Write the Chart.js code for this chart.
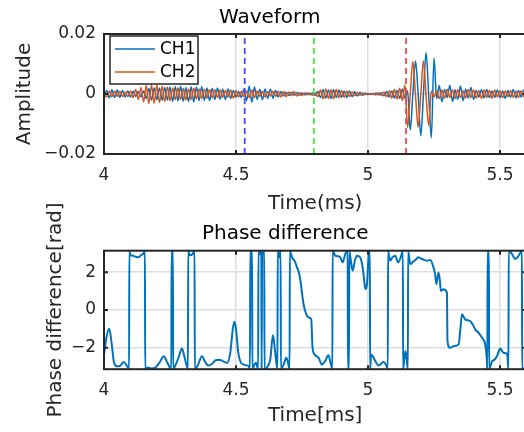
<!DOCTYPE html>
<html lang="ja">
<head>
<meta charset="UTF-8">
<title>Waveform / Phase difference</title>
<script src="https://cdn.jsdelivr.net/npm/chart.js"></script>
<style>
  html, body { margin: 0; padding: 0; background: #fff; overflow: hidden; width: 524px; height: 432px; }
  #c1 { position: absolute; left: 0; top: 0; }
  #c2 { position: absolute; left: 0; top: 170px; }
</style>
</head>
<body>
<canvas id="c1" width="540" height="216"></canvas>
<canvas id="c2" width="540" height="262"></canvas>
<script>
// ---- data ----
// waveform samples, one every 0.01 ms starting at 4.00 ms; amplitudes in units of 1e-3
var waveStart = 4.0
var waveStep = 0.01
var ampUnit = 1e-3
var ch1Values = [
  -1.5,1.2,-1.3,1.4,-1.2,1.3,-1.1,1.2,-1.0,1.1,-1.0,
  0.9,-0.8,0.8,-0.9,1.0,
  -1.5,1.8,-2.0,2.0,-1.9,2.0,-2.1,2.2,-2.0,2.3,
  -2.4,2.5,-2.3,2.6,-2.4,2.2,-2.5,2.4,-2.6,2.3,-2.2,2.4,-2.1,2.0,-2.2,1.9,-1.8,2.0,-1.7,1.6,
  -1.8,1.7,-1.5,1.2,-1.0,0.8,-1.2,1.6,-2.2,2.6,
  -2.7,2.3,-1.8,1.6,-1.9,1.7,-1.5,1.6,-1.4,1.2,
  -1.0,0.8,-0.7,0.6,-0.5,0.6,-0.4,0.5,-0.4,0.3,-0.3,0.3,-0.2,0.3,-0.4,
  0.8,-1.2,1.5,-1.4,1.3,-1.5,1.4,-1.2,1.3,-1.1,1.0,-1.2,
  1.0,-0.9,0.8,-0.7,0.6,-0.4,0.3,-0.2,
  0.2,-0.2,0.3,-0.3,0.4,
  -0.6,0.8,-1.0,1.1,-1.3,1.2,-1.5,1.6,
  -1.5,1.0,-12.0,0,11.0,0,-14.0,0,13.8,-0.5,-14.6,12.0,
  -1.5,2.8,-2.6,1.5,-1.2,2.9,-2.5,1.4,-1.8,2.7,
  -2.2,1.6,-1.3,2.2,-1.8,1.2,-1.0,1.4,-1.3,1.5,
  -1.2,1.0,-1.1,1.3,-1.2,1.0,-1.4,1.2,-1.1,1.5,-1.3,1.2,-1.0,1.3,-1.2,1.1,-1.0
]
var ch2Values = [
  0.5,-1.0,1.0,-0.9,1.0,-0.8,0.9,-0.8,0.7,-0.9,1.0,
  -1.2,1.5,-1.8,2.2,-2.6,
  2.8,-3.2,3.0,-3.1,2.9,-2.8,2.6,-2.5,2.3,-2.2,
  2.0,-1.9,2.1,-1.8,1.9,-2.0,1.7,-1.8,1.9,-1.6,1.7,-1.5,1.6,-1.4,1.5,-1.3,1.4,-1.2,1.3,-1.1,
  1.2,-1.0,1.3,-1.4,1.2,-1.0,0.8,-0.9,1.0,-1.2,
  1.3,-1.2,1.0,-0.8,0.9,-1.0,0.8,-0.7,0.9,-0.8,
  0.9,-1.0,0.8,-0.9,0.7,-0.6,0.8,-0.7,0.5,-0.5,0.4,-0.3,0.3,-0.4,0.5,
  -0.9,1.3,-1.6,1.7,-1.5,1.4,-1.6,1.5,-1.3,1.2,-1.1,1.0,
  -0.8,0.7,-0.6,0.5,-0.4,0.3,-0.2,0.2,
  -0.2,0.2,-0.3,0.4,-0.5,
  0.7,-0.9,1.1,-1.3,1.5,-1.7,1.9,-2.2,
  3.0,-11.2,0,10.8,-0.5,-11.0,0,11.0,-0.5,-10.5,1.0,-1.0,
  1.0,-1.5,1.3,-1.4,1.6,-1.2,1.3,-1.5,1.4,-1.2,
  1.1,-1.3,1.5,-1.2,1.3,-1.4,1.2,-1.5,1.3,-1.1,
  1.2,-1.4,1.3,-1.0,1.1,-1.2,1.0,-0.9,1.2,-1.1,1.0,-1.2,1.1,-0.9,1.0,-1.1,1.2
]
var channelNames = ['CH1', 'CH2']
var markerTimes = [4.533, 4.795, 5.144]

// phase difference [rad]
var phaseTimes = [
  4.000,4.010,4.020,4.030,4.037,4.049,4.062,4.075,4.086,4.095,
  4.096,4.100,4.110,4.120,4.130,4.140,4.150,4.155,4.156,4.165,
  4.180,4.195,4.210,4.226,4.240,4.255,4.256,4.259,4.261,4.262,
  4.270,4.283,4.295,4.305,4.318,4.319,4.325,4.335,4.343,4.344,
  4.355,4.371,4.385,4.395,4.410,4.425,4.440,4.455,4.466,4.478,
  4.488,4.494,4.500,4.508,4.516,4.530,4.548,4.553,4.554,4.561,
  4.562,4.570,4.576,4.584,4.585,4.590,4.596,4.597,4.599,4.603,
  4.607,4.608,4.620,4.630,4.640,4.648,4.657,4.658,4.663,4.669,
  4.670,4.680,4.691,4.700,4.703,4.704,4.712,4.722,4.731,4.738,
  4.744,4.750,4.756,4.763,4.769,4.778,4.785,4.790,4.798,4.813,
  4.825,4.838,4.850,4.858,4.865,4.866,4.876,4.886,4.895,4.904,
  4.914,4.923,4.924,4.928,4.929,4.935,4.942,4.950,4.958,4.970,
  4.978,4.983,4.990,4.996,5.002,5.007,5.008,5.012,5.020,5.028,
  5.040,5.050,5.059,5.068,5.075,5.076,5.084,5.093,5.103,5.114,
  5.126,5.132,5.133,5.138,5.142,5.146,5.151,5.152,5.160,5.170,
  5.180,5.190,5.205,5.223,5.236,5.248,5.254,5.259,5.267,5.272,
  5.276,5.286,5.299,5.301,5.311,5.324,5.343,5.350,5.356,5.368,
  5.387,5.400,5.406,5.419,5.432,5.444,5.450,5.452,5.453,5.458,
  5.459,5.470,5.480,5.490,5.501,5.514,5.527,5.532,5.533,5.545,
  5.558,5.571,5.583,5.584,5.600,5.620
]
var phaseValues = [
  -2.37,-1.40,-1.00,-1.90,-2.72,-2.99,-2.95,-2.76,-2.95,-3.14,
  3.14,2.90,2.88,2.82,2.79,2.90,3.00,3.14,-3.14,-3.05,
  -3.10,-3.05,-2.80,-2.45,-2.80,-3.14,3.14,3.00,3.14,-3.14,
  -2.95,-2.50,-2.05,-2.50,-3.14,3.14,2.90,2.95,3.14,-3.14,
  -2.95,-2.45,-2.80,-2.95,-2.85,-2.65,-2.65,-2.75,-2.81,-2.30,
  -1.00,-0.62,-1.00,-2.20,-2.72,-2.90,-2.99,-3.14,3.14,3.14,
  -3.14,-2.90,-2.80,-3.14,3.14,2.95,3.14,-3.14,3.14,2.95,
  3.14,-3.14,-3.00,-2.60,-1.33,-2.20,-3.14,3.14,2.79,3.14,
  -3.14,-2.90,-2.54,-3.00,-3.14,3.14,2.79,2.60,2.26,2.00,
  1.55,0.90,0.30,-0.10,-0.32,-0.41,-0.50,-2.00,-2.37,-2.54,
  -2.90,-2.70,-2.40,-2.80,-3.14,3.14,2.88,2.85,2.79,2.52,
  2.97,3.14,-3.14,-3.14,3.14,2.61,2.08,2.60,2.88,2.79,
  2.40,1.90,1.10,1.37,2.79,3.14,-3.14,-2.37,-2.50,-2.72,
  -2.95,-2.85,-2.76,-2.90,-3.14,3.14,2.61,2.80,2.88,2.52,
  2.88,3.14,-3.14,-2.50,-2.19,-2.60,-3.14,3.14,2.43,2.55,
  2.65,2.79,2.70,2.61,2.65,2.26,1.90,1.37,1.99,1.60,
  1.01,1.10,0.92,-1.65,-2.01,-1.92,-1.83,-1.00,-0.23,-0.50,
  -0.59,-0.85,-1.03,-1.21,-1.48,-1.83,-2.60,-3.14,3.14,3.14,
  -3.14,-2.72,-2.63,-2.40,-2.05,-2.28,-2.33,-3.14,3.14,2.97,
  2.70,2.88,3.14,-3.14,-3.00,-2.90
]

var timeTicks = [4, 4.5, 5, 5.5]
var ampTicks = [-0.02, 0, 0.02]
var phaseTicks = [-2, 0, 2]

// ---- style ----
var corCH = ['#0072BD', '#D95319']
var corMarca = ['rgb(70,70,255)', 'rgb(70,235,70)', 'rgb(255,70,70)']
var corEixo = '#262626'
var corGrade = '#dedede'

Chart.defaults.font.family = "'DejaVu Sans', sans-serif"
Chart.defaults.color = corEixo

function fmtTick(v) {
  if (v < 0) return '\u2212' + String(Math.abs(v))
  return String(v)
}

// black box round the axes with MATLAB style inward ticks
var caixaEixos = {
  id: 'caixaEixos',
  afterDatasetsDraw(chart) {
    var ctx = chart.ctx, a = chart.chartArea
    var x = chart.scales.x, y = chart.scales.y
    ctx.save()
    ctx.strokeStyle = corEixo
    ctx.lineWidth = 2
    ctx.beginPath()
    x.ticks.forEach(function (t) {
      var px = x.getPixelForValue(t.value)
      ctx.moveTo(px, a.bottom); ctx.lineTo(px, a.bottom - 4)
      ctx.moveTo(px, a.top); ctx.lineTo(px, a.top + 4)
    })
    y.ticks.forEach(function (t) {
      var py = y.getPixelForValue(t.value)
      ctx.moveTo(a.left, py); ctx.lineTo(a.left + 4, py)
      ctx.moveTo(a.right, py); ctx.lineTo(a.right - 4, py)
    })
    ctx.stroke()
    ctx.strokeRect(a.left, a.top, a.right - a.left, a.bottom - a.top)
    ctx.restore()
  }
}

// legend box inside the top left corner
var legendaCaixa = {
  id: 'legendaCaixa',
  afterDraw(chart) {
    var ctx = chart.ctx, a = chart.chartArea
    var bx = a.left + 6, by = a.top + 2, bw = 88, bh = 48
    ctx.save()
    ctx.fillStyle = '#fff'
    ctx.fillRect(bx, by, bw, bh)
    ctx.strokeStyle = corEixo
    ctx.lineWidth = 1.5
    ctx.strokeRect(bx, by, bw, bh)
    ctx.font = "17px 'DejaVu Sans'"
    ctx.textBaseline = 'middle'
    channelNames.forEach(function (nome, i) {
      var ly = by + 13 + i * 23
      ctx.strokeStyle = corCH[i]
      ctx.lineWidth = 1.5
      ctx.beginPath()
      ctx.moveTo(bx + 5, ly); ctx.lineTo(bx + 45, ly)
      ctx.stroke()
      ctx.fillStyle = '#000'
      ctx.fillText(nome, bx + 50, ly + 1)
    })
    ctx.restore()
  }
}

// ---- top chart: waveform ----
var ondas = [ch1Values, ch2Values].map(function (vals, k) {
  return {
    label: channelNames[k],
    data: vals.map(function (v, i) { return { x: waveStart + i * waveStep, y: v * ampUnit } }),
    borderColor: corCH[k],
    borderWidth: 1.5,
    pointRadius: 0,
    cubicInterpolationMode: 'monotone',
    order: k === 0 ? 2 : 1
  }
})
var marcas = markerTimes.map(function (t, k) {
  return {
    label: 'marker' + k,
    data: [{ x: t, y: ampTicks[0] }, { x: t, y: ampTicks[2] }],
    borderColor: corMarca[k],
    borderWidth: 1.8,
    borderDash: [6, 4],
    pointRadius: 0,
    order: 0
  }
})

new Chart(document.getElementById('c1'), {
  type: 'line',
  data: { datasets: ondas.concat(marcas) },
  options: {
    responsive: false,
    animation: false,
    layout: { padding: { left: 13, right: 13.6, top: 0, bottom: 0 } },
    plugins: {
      legend: { display: false },
      tooltip: { enabled: false },
      title: { display: true, text: 'Waveform', color: '#000', font: { size: 20, weight: 'normal' }, padding: { top: 6, bottom: 4 } }
    },
    scales: {
      x: {
        type: 'linear', min: 4, max: 5.6,
        afterBuildTicks: function (s) { s.ticks = timeTicks.map(function (v) { return { value: v } }) },
        afterFit: function (s) { s.height = 62 },
        ticks: { padding: 11, font: { size: 17 }, callback: fmtTick, maxRotation: 0 },
        grid: { color: corGrade, lineWidth: 1.5, drawTicks: false },
        border: { display: false },
        title: { display: true, text: 'Time(ms)', font: { size: 20 }, padding: { top: 7, bottom: 0 } }
      },
      y: {
        min: -0.02, max: 0.02,
        afterBuildTicks: function (s) { s.ticks = ampTicks.map(function (v) { return { value: v } }) },
        afterFit: function (s) { s.width = 91 },
        ticks: { padding: 8, font: { size: 17 }, callback: fmtTick },
        grid: { color: corGrade, lineWidth: 1.5, drawTicks: false },
        border: { display: false },
        title: { display: true, text: 'Amplitude', font: { size: 20 }, padding: 0 }
      }
    }
  },
  plugins: [caixaEixos, legendaCaixa]
})

// ---- bottom chart: phase difference ----
new Chart(document.getElementById('c2'), {
  type: 'line',
  data: {
    datasets: [{
      label: 'Phase difference',
      data: phaseTimes.map(function (t, i) { return { x: t, y: phaseValues[i] } }),
      borderColor: corCH[0],
      borderWidth: 2,
      pointRadius: 0,
      cubicInterpolationMode: 'monotone'
    }]
  },
  options: {
    responsive: false,
    animation: false,
    layout: { padding: { left: 44, right: 13.6, top: 46, bottom: 4 } },
    plugins: {
      legend: { display: false },
      tooltip: { enabled: false },
      title: { display: true, text: 'Phase difference', color: '#000', font: { size: 20, weight: 'normal' }, padding: { top: 6, bottom: 4.7 } }
    },
    scales: {
      x: {
        type: 'linear', min: 4, max: 5.6,
        afterBuildTicks: function (s) { s.ticks = timeTicks.map(function (v) { return { value: v } }) },
        afterFit: function (s) { s.height = 58.8 },
        ticks: { padding: 11.6, font: { size: 17 }, callback: fmtTick, maxRotation: 0 },
        grid: { color: corGrade, lineWidth: 1.5, drawTicks: false },
        border: { display: false },
        title: { display: true, text: 'Time[ms]', font: { size: 20 }, padding: { top: 4, bottom: 0 } }
      },
      y: {
        min: -Math.PI, max: Math.PI,
        afterBuildTicks: function (s) { s.ticks = phaseTicks.map(function (v) { return { value: v } }) },
        afterFit: function (s) { s.width = 60 },
        ticks: { padding: 8, font: { size: 17 }, callback: fmtTick },
        grid: { color: corGrade, lineWidth: 1.5, drawTicks: false },
        border: { display: false },
        title: { display: true, text: 'Phase difference[rad]', font: { size: 20 }, padding: 0 }
      }
    }
  },
  plugins: [caixaEixos]
})
</script>
</body>
</html>
